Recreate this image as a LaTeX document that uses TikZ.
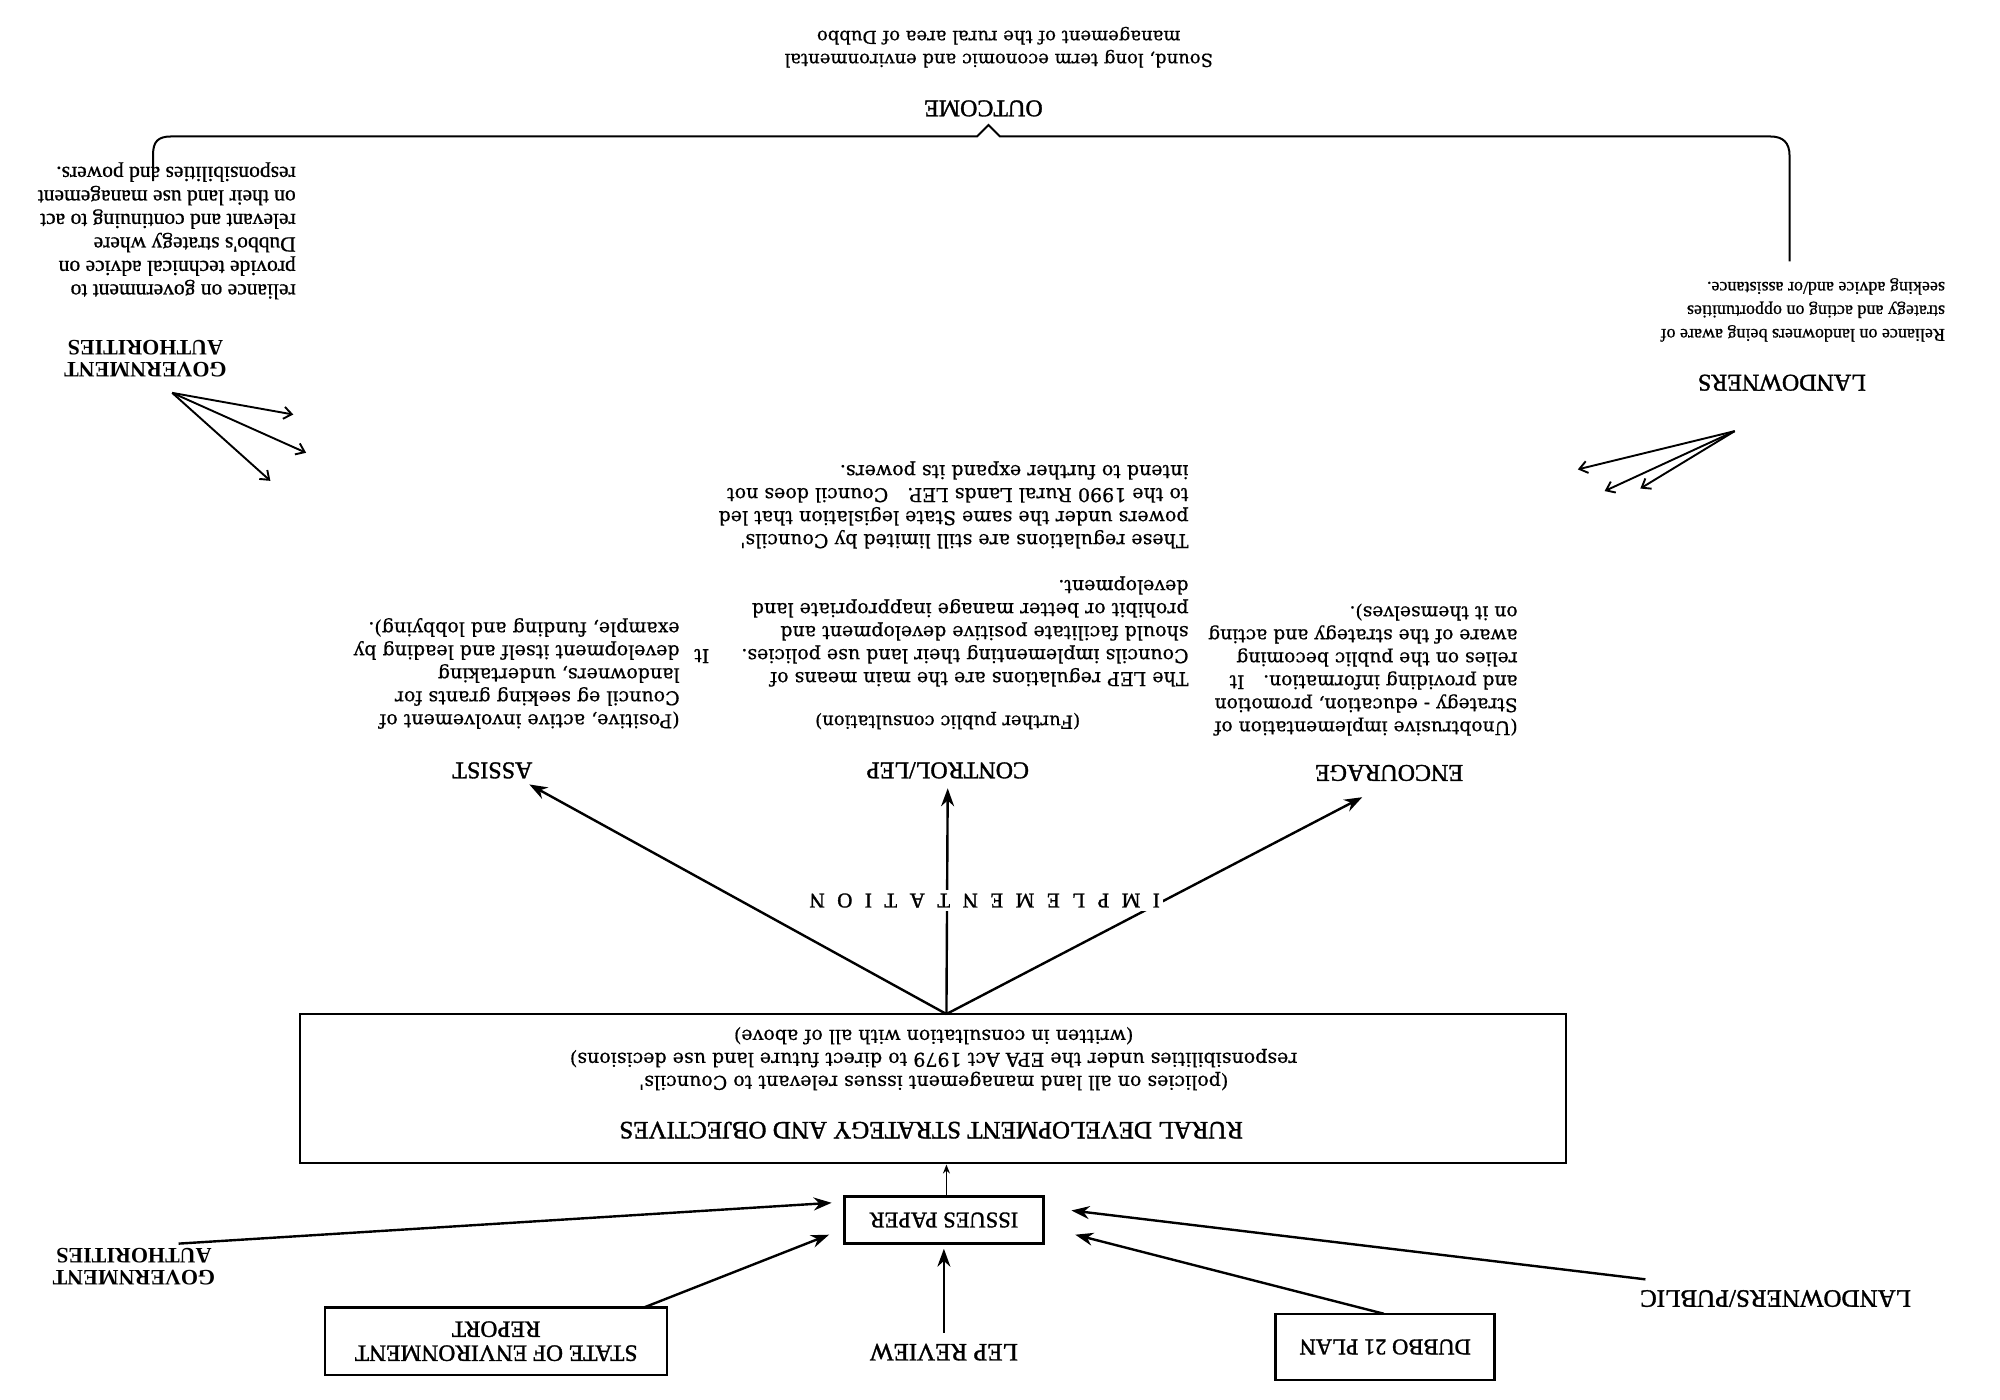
\documentclass[tikz,border=0pt]{standalone}
\usepackage{fontspec}
\setmainfont{Liberation Serif}
\newfontfamily\slab{DejaVu Serif}[FakeBold=0.6]
\newfontfamily\hdf{Liberation Serif}[FakeBold=1.4]
\newfontfamily\tmf{Liberation Serif}[FakeBold=0.8]
\usetikzlibrary{arrows.meta}
\newcommand\ls{\hspace{12.5pt}}
\begin{document}
\begin{tikzpicture}[x=1.2755pt,y=-1.2755pt,
  hd/.style={rotate=180, font=\hdf\fontsize{24}{25}\selectfont, inner sep=0pt, align=center},
  hdb/.style={rotate=180, font=\bfseries\fontsize{22}{22}\selectfont, inner sep=0pt, align=center},
  bodyL/.style={rotate=180, font=\slab\fontsize{19}{23}\selectfont, inner sep=0pt, align=left, anchor=west},
  bodyC/.style={rotate=180, font=\slab\fontsize{18}{23}\selectfont, inner sep=0pt, align=center},
  timesL/.style={rotate=180, font=\tmf\fontsize{21.5}{23.5}\selectfont, inner sep=0pt, align=left, anchor=west},
  box/.style={rotate=180, draw, line width=2.6pt, inner sep=0pt, font=\hdf\fontsize{22.5}{24}\selectfont, align=center},
  arr/.style={line width=2.4pt, -{Stealth[length=18pt,width=13pt]}},
  sarr/.style={line width=1.3pt, -{Stealth[length=9pt,width=7pt]}},
  barb/.style={line width=1.9pt, -{Straight Barb[length=8pt,width=12pt]}}
]
\fill[white] (0,0) rectangle (1568,1097);
\useasboundingbox (0,0) rectangle (1568,1097);

% ---------- top: outcome ----------
\node[bodyC] (sound) at (783,37) {Sound, long term economic and environmental\\management of the rural area of Dubbo};
\node[hd] (outcome) at (771,85) {OUTCOME};
\draw[line width=2pt] (120,142) -- (120,121) .. controls (120,111) and (124,107) .. (134,107)
  -- (766,107) -- (775,98) -- (784,107) -- (1388,107)
  .. controls (1398,107) and (1403,112) .. (1403,122) -- (1403,205);

% ---------- top left: government ----------
\node[timesL] (govt) at (232,181) {reliance on government to\\provide technical advice on\\Dubbo's strategy where\\relevant and continuing to act\\on their land use management\\responsibilities and powers.};
\node[hdb] (gova) at (114,281) {GOVERNMENT\\AUTHORITIES};
\coordinate (ga0) at (135,308);
\coordinate (ga1) at (230,325);
\coordinate (ga2) at (240,355);
\coordinate (ga3) at (212,377);
\draw[barb] (ga0) -- (ga1);
\draw[barb] (ga0) -- (ga2);
\draw[barb] (ga0) -- (ga3);

% ---------- top right: landowners ----------
\node[timesL, font=\tmf\fontsize{18}{23.5}\selectfont] (landt) at (1525,243) {Reliance on landowners being aware of\\strategy and acting on opportunities\\seeking advice and/or assistance.};
\node[hd] (land) at (1397,300) {LANDOWNERS};
\coordinate (la0) at (1360,338);
\coordinate (la1) at (1237,368);
\coordinate (la2) at (1258,385);
\coordinate (la3) at (1286,383);
\draw[barb] (la0) -- (la1);
\draw[barb] (la0) -- (la2);
\draw[barb] (la0) -- (la3);

% ---------- implementation options ----------
\node[bodyL] (assistt) at (533,528) {(Positive, active involvement of\\Council eg seeking grants for\\landowners, undertaking\\development itself and leading by\\example, funding and lobbying).};
\node[hd] (assist) at (386,604) {ASSIST};

\node[bodyL] (lept) at (932,450) {The LEP regulations are the main means of\\Councils implementing their land use policies.\hspace{32pt}It\\should facilitate positive development and\\prohibit or better manage inappropriate land\\development.\\[23pt]These regulations are still limited by Councils'\\powers under the same State legislation that led\\to the 1990 Rural Lands LEP.\quad Council does not\\intend to further expand its powers.};
\node[bodyC] (further) at (743,565) {(Further public consultation)};
\node[hd] (control) at (743,604) {CONTROL/LEP};

\node[bodyL, font=\slab\fontsize{18.7}{23}\selectfont] (enct) at (1190,525) {(Unobtrusive implementation of\\Strategy - education, promotion\\and providing information.\quad It\\relies on the public becoming\\aware of the strategy and acting\\on it themselves).};
\node[hd] (enc) at (1089,606) {ENCOURAGE};

\coordinate (apex) at (742,795);
\coordinate (ta) at (415,615);
\coordinate (tc) at (743,618);
\coordinate (te) at (1068,625);
\draw[arr] (apex) -- (ta);
\draw[arr] (apex) -- (tc);
\draw[arr] (apex) -- (te);
\node[rotate=180, fill=white, inner sep=3pt, font=\hdf\fontsize{21}{22}\selectfont] (impl) at (772,706) {I\ls M\ls P\ls L\ls E\ls M\ls E\ls N\ls T\ls A\ls T\ls I\ls O\ls N};

% ---------- rural strategy box ----------
\node[box, minimum width=1266pt, minimum height=149pt] (rural) at (731.5,853.5) {};
\node[hd, font=\hdf\fontsize{25}{26}\selectfont] (ruralt) at (730,886) {RURAL DEVELOPMENT STRATEGY AND OBJECTIVES};
\node[bodyC, font=\slab\fontsize{19}{23}\selectfont] (rurals) at (732,830) {(policies on all land management issues relevant to Councils'\\responsibilities under the EPA Act 1979 to direct future land use decisions)\\(written in consultation with all of above)};

% ---------- inputs ----------
\node[box, minimum width=199pt, minimum height=47pt] (issues) at (740,956.5) {ISSUES PAPER};
\coordinate (is0) at (742,938);
\coordinate (rb0) at (742,913);
\draw[sarr] (is0) -- (rb0);

\node[box, minimum width=342pt, minimum height=67.6pt, font=\hdf\fontsize{23.5}{24}\selectfont] (soe) at (389,1051.5) {STATE OF ENVIRONMENT\\REPORT};
\node[hd, font=\hdf\fontsize{25}{26}\selectfont] (lep) at (740,1060) {LEP REVIEW};
\node[box, minimum width=219pt, minimum height=66pt] (dubbo) at (1086,1056) {DUBBO 21 PLAN};
\node[hdb] (govb) at (105,993) {GOVERNMENT\\AUTHORITIES};
\node[hd, font=\hdf\fontsize{25}{26}\selectfont] (lop) at (1392,1018) {LANDOWNERS/PUBLIC};

\coordinate (gb0) at (140,975);
\coordinate (gb1) at (652,943);
\coordinate (so0) at (505,1025);
\coordinate (so1) at (650,968);
\coordinate (lp0) at (740,1045);
\coordinate (lp1) at (740,979);
\coordinate (du0) at (1085,1030);
\coordinate (du1) at (843,968);
\coordinate (lo0) at (1290,1003);
\coordinate (lo1) at (840,949);
\draw[arr] (gb0) -- (gb1);
\draw[arr] (so0) -- (so1);
\draw[arr] (lp0) -- (lp1);
\draw[arr] (du0) -- (du1);
\draw[arr] (lo0) -- (lo1);
\end{tikzpicture}
\end{document}
